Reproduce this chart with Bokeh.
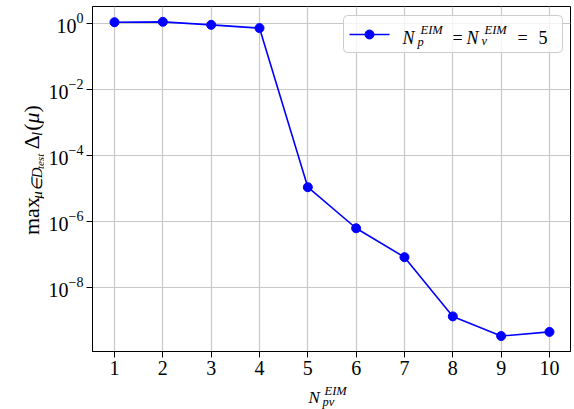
import math
from bokeh.plotting import figure
from bokeh.layouts import row, column
from bokeh.models import FixedTicker
from bokeh.embed import file_html
from bokeh.resources import INLINE
from bokeh.core.properties import value

# ---- data ----
n_pv = [1, 2, 3, 4, 5, 6, 7, 8, 9, 10]
max_error = [1.07, 1.1, 0.89, 0.71, 1.07e-5, 6.1e-7, 8.1e-8, 1.3e-9, 3.3e-10, 4.4e-10]
x_ticks = [1, 2, 3, 4, 5, 6, 7, 8, 9, 10]
y_ticks = [1e-8, 1e-6, 1e-4, 1e-2, 1e0]

# ---- layout (page px) ----
W, H = 574, 409
YL_W = 44                    # width of the strip holding the y title
TOP_H = 382                  # height of the main row
FL, FR, FT, FB = 92, 570, 6, 351          # frame edges
X0, X1 = 0.545, 10.435
LY0, LY1 = -9.95, 0.506
FONT = "Liberation Serif"

p = figure(width=W - YL_W, height=TOP_H, x_range=(X0, X1),
           y_range=(10 ** LY0, 10 ** LY1),
           y_axis_type="log", output_backend="svg", toolbar_location=None,
           min_border_left=FL - YL_W, min_border_right=W - FR,
           min_border_top=FT, min_border_bottom=TOP_H - FB)
p.background_fill_color = "white"
p.border_fill_color = "white"
p.outline_line_color = "black"
p.outline_line_width = 1
p.outline_line_alpha = 1

for ax in (p.xaxis, p.yaxis):
    ax.axis_line_color = "black"
    ax.major_tick_line_color = "black"
    ax.major_tick_out = 6
    ax.major_tick_in = 0
    ax.minor_tick_out = 0
    ax.minor_tick_in = 0
    ax.major_label_text_font = FONT
    ax.major_label_text_font_size = "20px"
    ax.major_label_text_color = "black"
    ax.major_label_standoff = 3
    ax.axis_label = None

p.xaxis.ticker = FixedTicker(ticks=x_ticks)
p.yaxis.ticker = FixedTicker(ticks=y_ticks, minor_ticks=[])
p.xgrid.ticker = FixedTicker(ticks=x_ticks)
p.ygrid.ticker = FixedTicker(ticks=y_ticks, minor_ticks=[])
for g in (p.xgrid, p.ygrid):
    g.grid_line_color = "#c8c8c8"
    g.grid_line_width = 1.2

p.line(n_pv, max_error, line_color="blue", line_width=1.6)
p.scatter(n_pv, max_error, size=9, fill_color="blue", line_color="blue")


def X(px):
    return X0 + (px - FL) / (FR - FL) * (X1 - X0)


def Y(py):
    return 10 ** (LY1 - (py - FT) / (FB - FT) * (LY1 - LY0))


def txt(fig, x, y, text, size, italic=False, angle=0.0):
    fig.text(x=[x], y=[y], text=[text], text_font=value(FONT),
             text_font_size=value(f"{size}px"),
             text_font_style="italic" if italic else "normal",
             text_align="left", text_baseline="alphabetic",
             text_color="black", angle=angle)


# ---- legend (glyphs inside the frame) ----
p.quad(left=[X(343)], right=[X(562)], top=[Y(15)], bottom=[Y(52)],
       fill_color="white", fill_alpha=0.8, line_color="#cccccc", line_width=1,
       border_radius=4)
p.line([X(349), X(389)], [Y(34), Y(34)], line_color="blue", line_width=1.6)
p.scatter([X(369)], [Y(34)], size=9, fill_color="blue", line_color="blue")

txt(p, X(402), Y(37), "N", 18, True)
txt(p, X(420), Y(29), "EIM", 12.5, True)
txt(p, X(417), Y(41), "p", 12.5, True)
txt(p, X(452), Y(37), "=", 18)
txt(p, X(466), Y(37), "N", 18, True)
txt(p, X(484), Y(29), "EIM", 12.5, True)
txt(p, X(481), Y(40), "v", 12.5, True)
txt(p, X(517), Y(37), "=", 18)
txt(p, X(538), Y(37), "5", 18)


def blank(w, h):
    f = figure(width=w, height=h, x_range=(0, w), y_range=(0, h),
               x_axis_type=None, y_axis_type=None, output_backend="svg",
               toolbar_location=None, min_border=0)
    f.outline_line_color = None
    f.grid.visible = False
    f.background_fill_color = "white"
    f.border_fill_color = "white"
    return f


# ---- y title strip:  max_{mu in D_test} Delta_l(mu) ----
yt = blank(YL_W, TOP_H)
R = math.pi / 2
BX = 31
y = TOP_H - 253
txt(yt, BX, y, "max", 22, False, R); y += 40
txt(yt, BX + 5, y, "μ∈D", 15, True, R); y += 33
txt(yt, BX + 8, y, "test", 11, True, R); y += 22
txt(yt, BX, y, "Δ", 22, False, R); y += 14.5
txt(yt, BX + 5, y, "l", 15, True, R); y += 6
txt(yt, BX, y, "(", 22, False, R); y += 8
txt(yt, BX, y, "μ", 22, True, R); y += 12
txt(yt, BX, y, ")", 22, False, R)

# ---- x title strip:  N_pv^EIM ----
XT_H = H - TOP_H
xt = blank(W, XT_H)
txt(xt, 308, H - 397, "N", 17, True)
txt(xt, 324, H - 390, "EIM", 12.5, True)
txt(xt, 322, H - 401, "pv", 12.5, True)

layout = column(row(yt, p, spacing=0), xt, spacing=0)
open("out.html", "w").write(file_html(layout, INLINE))
